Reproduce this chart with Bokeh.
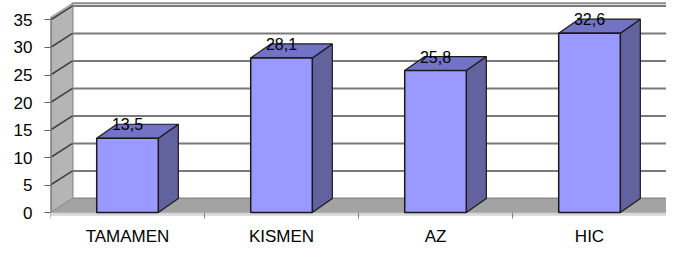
from bokeh.plotting import figure
from bokeh.models import Range1d, FixedTicker, ColumnDataSource
from bokeh.core.properties import value
from bokeh.embed import file_html
from bokeh.resources import INLINE

# ---- data ----
categories = ["TAMAMEN", "KISMEN", "AZ", "HIC"]
values = [13.5, 28.1, 25.8, 32.6]
y_ticks = [0, 5, 10, 15, 20, 25, 30, 35]

# ---- 3D style constants ----
BAR_W = 0.40
BAR_DX, BAR_DY = 0.13, 2.55
WALL_DX, WALL_DY = 0.143, 2.55
WALL_TOP = 35.5
FLOOR_END = 4.026
LABEL_Y = -4.3
FONT = "Liberation Sans"

n = len(categories)
centers = [i + 0.5 for i in range(n)]
bounds = [float(i) for i in range(n + 1)]

p = figure(width=666, height=246,
           x_range=Range1d(0, 4.0), y_range=Range1d(-6.18, 38.545),
           output_backend="svg", toolbar_location=None,
           x_axis_location=None,
           min_border_left=50, min_border_right=0, min_border_top=0,
           min_border_bottom=0, outline_line_color=None,
           background_fill_color="white", border_fill_color="white")
p.xgrid.visible = False
p.ygrid.visible = False

# back wall
p.quad(left=WALL_DX, right=4.3, bottom=WALL_DY, top=WALL_TOP + WALL_DY,
       fill_color="white", line_color="#8c8c8c", line_width=2)
grid_vals = [t for t in y_ticks if t > 0]
p.segment(x0=[WALL_DX] * len(grid_vals), y0=[t + WALL_DY for t in grid_vals],
          x1=[4.3] * len(grid_vals), y1=[t + WALL_DY for t in grid_vals],
          line_color="#7a7a7a", line_width=2)

# left wall
p.patch(x=[0, WALL_DX, WALL_DX, 0],
        y=[0, WALL_DY, WALL_TOP + WALL_DY, WALL_TOP],
        fill_color="#b5b5b5", line_color="#9a9a9a", line_width=1)
p.segment(x0=[0] * len(grid_vals), y0=grid_vals,
          x1=[WALL_DX] * len(grid_vals), y1=[t + WALL_DY for t in grid_vals],
          line_color="#404040", line_width=1.5)
p.segment(x0=[0.002], y0=[0], x1=[0.002], y1=[WALL_TOP], line_color="#7a7a7a", line_width=2)

# floor
p.patch(x=[0, FLOOR_END, FLOOR_END + WALL_DX, WALL_DX],
        y=[0, 0, WALL_DY, WALL_DY],
        fill_color="#a3a3a3", line_color="#8c8c8c", line_width=1)
p.quad(left=0, right=FLOOR_END, bottom=-0.6, top=0,
       fill_color="#d6d6d6", line_color=None)

# category boundary ticks
p.segment(x0=bounds, y0=[0] * len(bounds), x1=bounds, y1=[-1.1] * len(bounds),
          line_color="#808080", line_width=1)

# bars
fx0 = [c - BAR_W / 2 for c in centers]
fx1 = [c + BAR_W / 2 for c in centers]
side_xs = [[x1, x1 + BAR_DX, x1 + BAR_DX, x1] for x1 in fx1]
side_ys = [[0, BAR_DY, v + BAR_DY, v] for v in values]
top_xs = [[x0, x1, x1 + BAR_DX, x0 + BAR_DX] for x0, x1 in zip(fx0, fx1)]
top_ys = [[v, v, v + BAR_DY, v + BAR_DY] for v in values]
p.patches(xs=side_xs, ys=side_ys, fill_color="#62629f",
          line_color="#1a1a1a", line_width=1.2)
p.patches(xs=top_xs, ys=top_ys, fill_color="#7373c6",
          line_color="#1a1a1a", line_width=1.2)
p.quad(left=fx0, right=fx1, bottom=0, top=values,
       fill_color="#9999ff", line_color="#1a1a1a", line_width=1.5)

# value labels
lab_src = ColumnDataSource(dict(
    x=centers, y=[v + BAR_DY for v in values],
    t=[f"{v:.1f}".replace(".", ",") for v in values]))
p.text(x="x", y="y", text="t", source=lab_src, text_align="center",
       text_baseline="alphabetic", text_font=value(FONT),
       text_font_size="16px", text_color="black")

# category labels
cat_src = ColumnDataSource(dict(x=centers, y=[LABEL_Y] * n, t=categories))
p.text(x="x", y="y", text="t", source=cat_src, text_align="center",
       text_baseline="alphabetic", text_font=value(FONT),
       text_font_size="17px", text_color="black")

# y axis
ya = p.yaxis[0]
ya.ticker = FixedTicker(ticks=y_ticks)
ya.axis_line_color = None
ya.major_tick_in = 0
ya.major_tick_out = 6
ya.major_tick_line_color = "#606060"
ya.minor_tick_line_color = None
ya.major_label_standoff = 12
ya.major_label_text_font = FONT
ya.major_label_text_font_size = "17px"
ya.major_label_text_color = "black"

open("out.html", "w").write(file_html(p, INLINE))
